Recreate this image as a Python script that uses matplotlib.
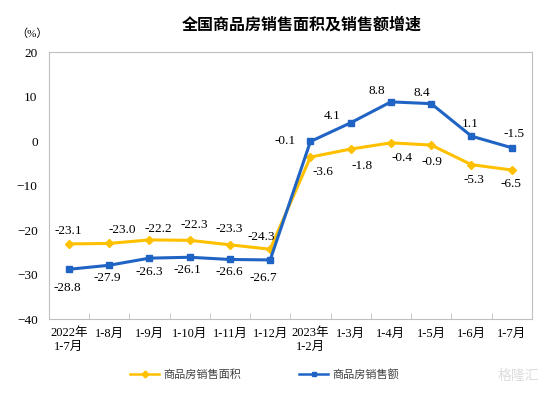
import matplotlib.pyplot as plt
import numpy as np

plt.rcParams['font.family'] = ['Liberation Serif', 'Noto Sans CJK SC']

# categories and values
labels = ['2022年\n1-7月', '1-8月', '1-9月', '1-10月', '1-11月', '1-12月',
          '2023年\n1-2月', '1-3月', '1-4月', '1-5月', '1-6月', '1-7月']
area = [-23.1, -23.0, -22.2, -22.3, -23.3, -24.3, -3.6, -1.8, -0.4, -0.9, -5.3, -6.5]
sales = [-28.8, -27.9, -26.3, -26.1, -26.6, -26.7, -0.1, 4.1, 8.8, 8.4, 1.1, -1.5]
yticks = [20, 10, 0, -10, -20, -30, -40]

# label offsets in pixels (dx, dy), dy up positive
area_off = [(-1, 13), (13, 13), (9, 11), (5, 15), (-1, 16), (-9, 12),
            (13, -15), (11, -17), (11, -15), (1, -17), (2, -15), (-1, -14)]
sales_off = [(-2, -19), (-2, -13), (0, -14), (-2, -13), (-1, -13), (-7, -18),
             (-25, 0), (-19, 7), (-14, 11), (-9, 11), (-1, 12), (2, 14)]

yellow = '#FFC000'
blue = '#1F64C4'
gray = '#BFBFBF'

fig = plt.figure(figsize=(5.54, 3.94), dpi=100)
ax = fig.add_axes([0.088, 0.19, 0.872, 0.678])

x = np.arange(len(labels))
ax.plot(x, area, color=yellow, lw=2.2, marker='D', ms=4.5, label='商品房销售面积')
ax.plot(x, sales, color=blue, lw=2.2, marker='s', ms=4.5, label='商品房销售额')

for i in range(len(x)):
    ax.annotate(f'{area[i]:.1f}', (x[i], area[i]), xytext=area_off[i],
                textcoords='offset pixels', ha='center', va='center', fontsize=9.5)
    ax.annotate(f'{sales[i]:.1f}', (x[i], sales[i]), xytext=sales_off[i],
                textcoords='offset pixels', ha='center', va='center', fontsize=9.5)

ax.set_xlim(-0.5, 11.5)
ax.set_ylim(-40, 20)
ax.set_yticks(yticks)
ax.set_xticks(x)
ax.set_xticklabels(labels, fontsize=9)
ax.set_xticks(x[:-1] + 0.5, minor=True)
ax.tick_params(axis='x', which='major', length=0, pad=6)
ax.tick_params(axis='x', which='minor', length=4, direction='in', color=gray)
ax.tick_params(axis='y', length=0, pad=8, labelsize=9.5)
for s in ax.spines.values():
    s.set_color(gray)

fig.text(0.545, 0.937, '全国商品房销售面积及销售额增速', ha='center', va='center',
         fontsize=11.5, fontweight='bold', family='Noto Sans CJK SC')
fig.text(0.057, 0.915, '（%）', ha='center', va='center', fontsize=8)

leg = fig.legend(loc='center', bbox_to_anchor=(0.478, 0.05), ncol=2, frameon=False,
                 fontsize=8, handlelength=2.6, handletextpad=0.4, columnspacing=5.2)
for h in leg.legend_handles:
    h.set_linewidth(1.8)
    h.set_markersize(3.5)
for t in leg.get_texts():
    t.set_color('#404040')
fig.text(0.935, 0.045, '格隆汇', ha='center', va='center', fontsize=10,
         color='#DDDDDD', family='Noto Sans CJK SC')

fig.savefig('out.png', dpi=100)
